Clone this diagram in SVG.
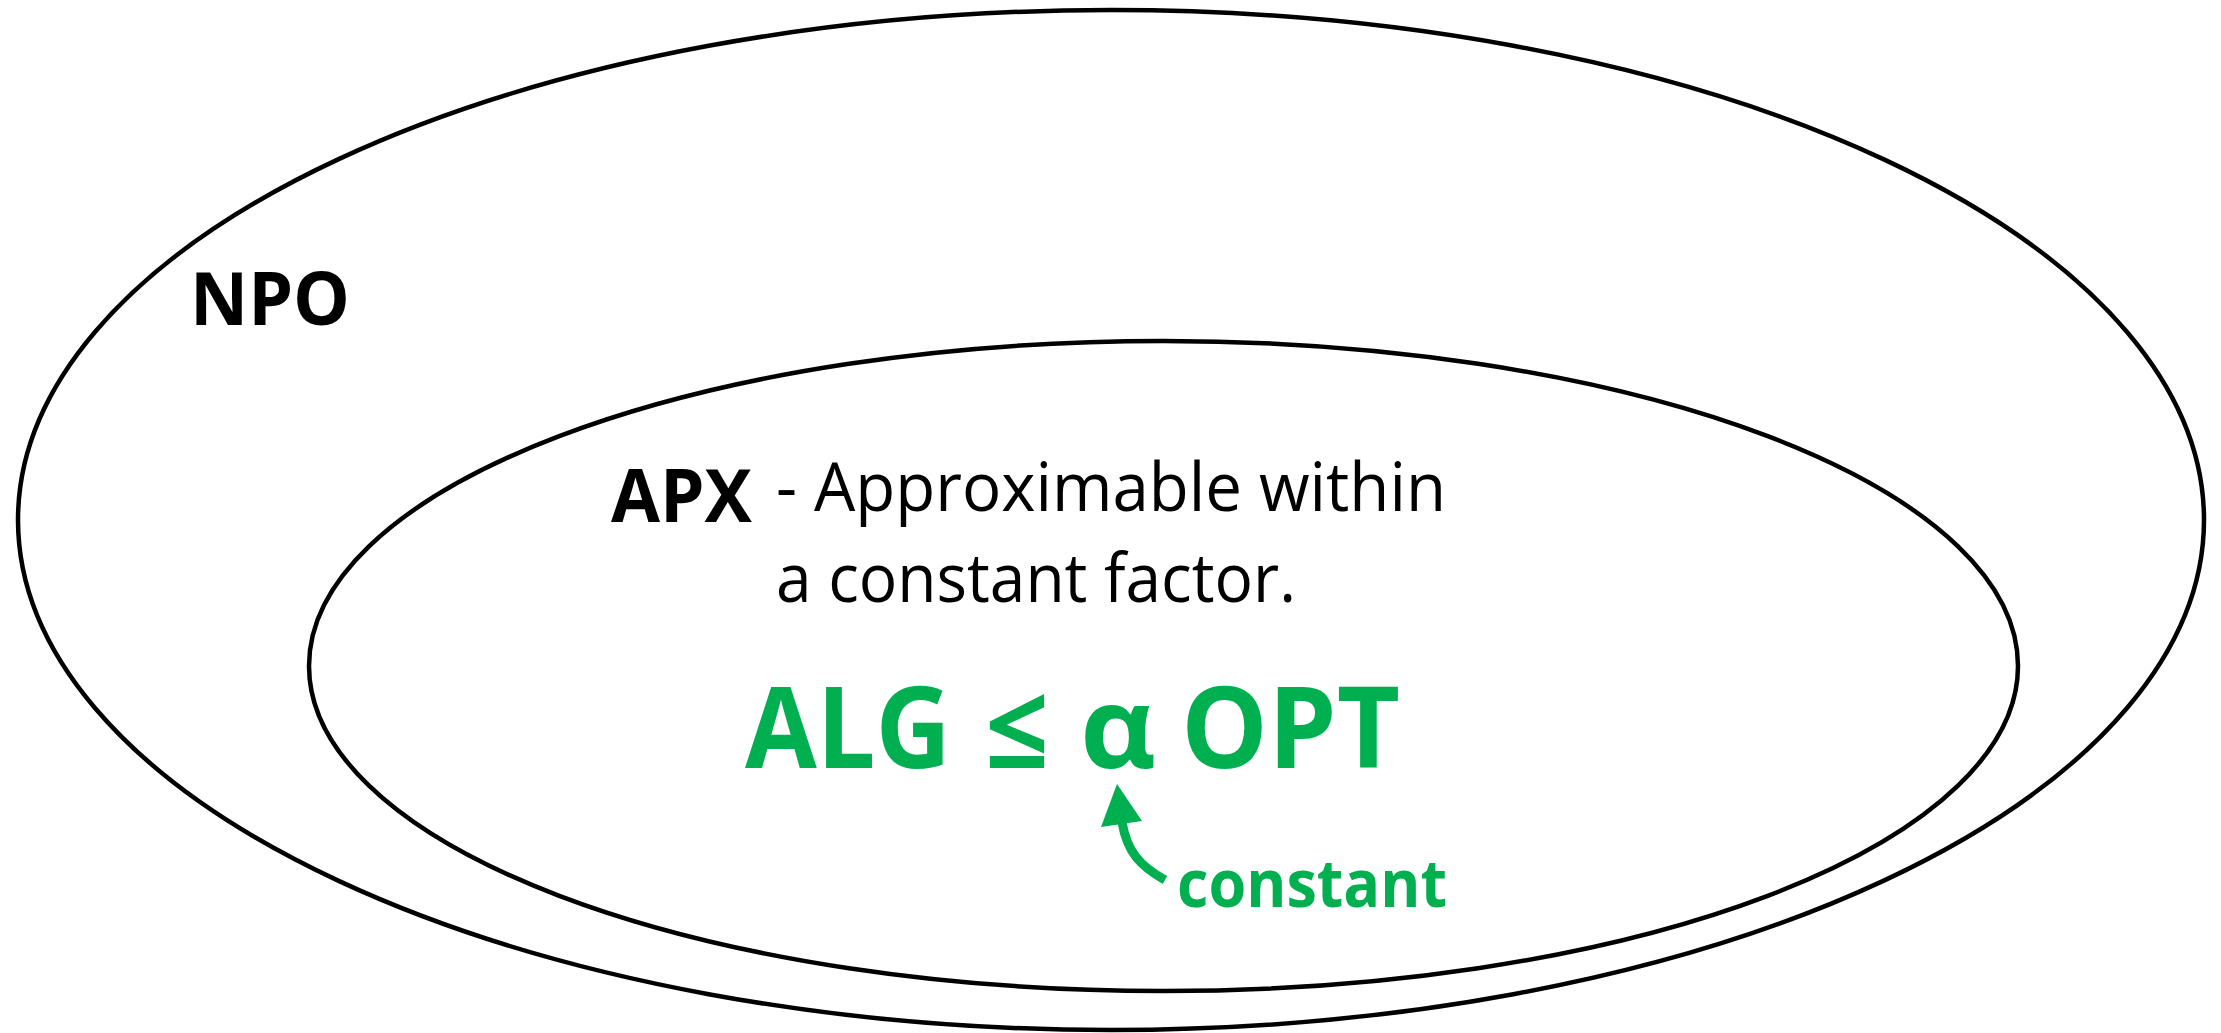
<svg xmlns="http://www.w3.org/2000/svg" width="2221" height="1033" viewBox="0 0 2221 1033">
<style>
.set{fill:none;stroke:#000;stroke-width:4.5}
.lbl{font-family:"Open Sans","Noto Sans",sans-serif;fill:#000}
.b{font-weight:bold}
.g{fill:#00B050}
</style>
<rect width="2221" height="1033" fill="#fff"/>
<g id="npo">
<ellipse class="set" cx="1111" cy="520" rx="1093" ry="510"/>
<text class="lbl b" x="190" y="325" font-size="74" textLength="160" lengthAdjust="spacingAndGlyphs">NPO</text>
</g>
<g id="apx">
<ellipse class="set" cx="1163.5" cy="666" rx="854.5" ry="325"/>
<text class="lbl b" x="611" y="522" font-size="74" textLength="141" lengthAdjust="spacingAndGlyphs">APX</text>
<text class="lbl" x="776" y="511" font-size="67" textLength="670" lengthAdjust="spacingAndGlyphs">- Approximable within</text>
<text class="lbl" x="776" y="602" font-size="67" textLength="520" lengthAdjust="spacingAndGlyphs">a constant factor.</text>
</g>
<g id="formula">
<text class="lbl b g" x="745" y="768" font-size="113" textLength="206" lengthAdjust="spacingAndGlyphs">ALG</text>
<text class="lbl b g" x="985" y="768" font-size="113" textLength="64" lengthAdjust="spacingAndGlyphs">≤</text>
<text class="lbl b g" x="1080" y="768" font-size="113" textLength="76" lengthAdjust="spacingAndGlyphs">α</text>
<text class="lbl b g" x="1181" y="768" font-size="113" textLength="219" lengthAdjust="spacingAndGlyphs">OPT</text>
</g>
<g id="constant">
<text class="lbl b g" x="1177" y="907" font-size="67" textLength="270" lengthAdjust="spacingAndGlyphs">constant</text>
</g>
<g id="connectors">
<path d="M1165,880 C1140,866 1127,852 1122,822" fill="none" stroke="#00B050" stroke-width="9"/>
<polygon points="1117,784 1101,827 1142,821" fill="#00B050"/>
</g>
</svg>
